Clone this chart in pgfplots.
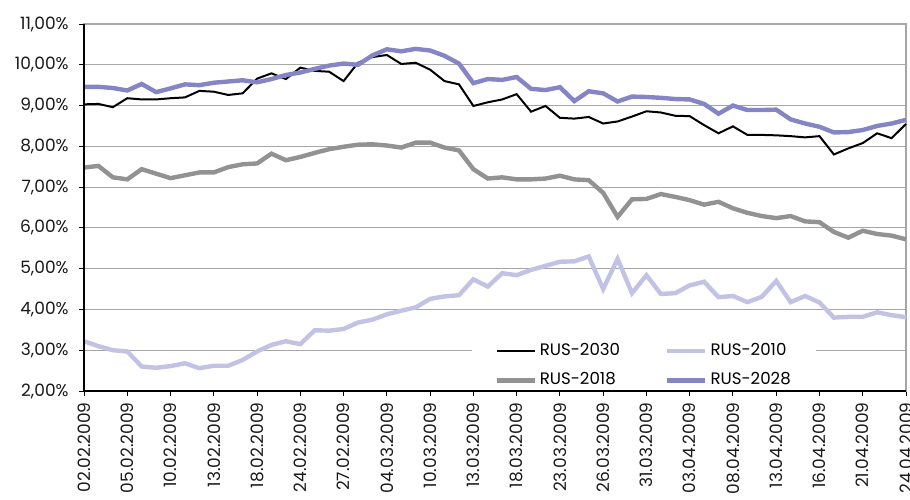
\documentclass[border=0pt]{standalone}
\usepackage{fontspec}
\setmainfont{Poppins}
\usepackage{pgfplots}
\usepackage{pgfplotstable}
\pgfplotsset{compat=1.18}

\definecolor{rus2030}{HTML}{000000}
\definecolor{rus2010}{HTML}{C2C2E4}
\definecolor{rus2018}{HTML}{929292}
\definecolor{rus2028}{HTML}{8585C5}
\definecolor{gridgray}{HTML}{A6A6A6}

% yields, % per trading day (every 3rd day labelled)
\pgfplotstableread{
idx r2030 r2010 r2018 r2028
0  9.03 3.22 7.48 9.46
1  9.04 3.10 7.52 9.46
2  8.96 3.00 7.24 9.43
3  9.18 2.97 7.19 9.37
4  9.15 2.60 7.44 9.53
5  9.15 2.57 7.33 9.33
6  9.18 2.61 7.22 9.42
7  9.20 2.68 7.29 9.52
8  9.36 2.56 7.36 9.50
9  9.34 2.62 7.36 9.56
10 9.26 2.62 7.49 9.59
11 9.30 2.76 7.56 9.62
12 9.66 2.97 7.58 9.57
13 9.79 3.13 7.82 9.65
14 9.65 3.22 7.66 9.75
15 9.93 3.15 7.74 9.81
16 9.85 3.49 7.84 9.90
17 9.83 3.48 7.93 9.98
18 9.60 3.52 7.99 10.03
19 10.05 3.68 8.04 10.00
20 10.19 3.75 8.05 10.23
21 10.24 3.88 8.02 10.38
22 10.02 3.97 7.97 10.33
23 10.05 4.05 8.09 10.39
24 9.88 4.26 8.09 10.35
25 9.60 4.32 7.97 10.22
26 9.52 4.35 7.90 10.03
27 8.99 4.74 7.44 9.55
28 9.08 4.56 7.21 9.65
29 9.15 4.89 7.24 9.63
30 9.28 4.84 7.19 9.70
31 8.85 4.97 7.19 9.41
32 8.99 5.07 7.21 9.38
33 8.70 5.17 7.28 9.45
34 8.68 5.18 7.19 9.11
35 8.72 5.30 7.17 9.35
36 8.56 4.50 6.86 9.30
37 8.61 5.24 6.27 9.10
38 8.73 4.40 6.70 9.22
39 8.86 4.84 6.71 9.21
40 8.83 4.38 6.83 9.19
41 8.75 4.40 6.76 9.16
42 8.74 4.59 6.68 9.15
43 8.52 4.68 6.57 9.04
44 8.32 4.30 6.64 8.80
45 8.49 4.33 6.48 9.00
46 8.28 4.18 6.37 8.89
47 8.28 4.31 6.29 8.89
48 8.27 4.70 6.24 8.90
49 8.25 4.18 6.29 8.66
50 8.22 4.33 6.16 8.56
51 8.25 4.17 6.14 8.48
52 7.80 3.80 5.90 8.34
53 7.95 3.82 5.76 8.35
54 8.08 3.82 5.93 8.40
55 8.32 3.93 5.85 8.50
56 8.20 3.86 5.81 8.56
57 8.55 3.81 5.72 8.65
}\yields

\begin{document}
\begin{tikzpicture}
\begin{axis}[
  name=ax,
  scale only axis, width=411pt, height=183.5pt,
  xmin=0, xmax=57, ymin=2, ymax=11,
  clip=false,
  xtick={0,3,...,57},
  xticklabels={02.02.2009,05.02.2009,10.02.2009,13.02.2009,18.02.2009,24.02.2009,27.02.2009,04.03.2009,10.03.2009,13.03.2009,18.03.2009,23.03.2009,26.03.2009,31.03.2009,03.04.2009,08.04.2009,13.04.2009,16.04.2009,21.04.2009,24.04.2009},
  ytick={2,...,11},
  yticklabels={{2,00\%},{3,00\%},{4,00\%},{5,00\%},{6,00\%},{7,00\%},{8,00\%},{9,00\%},{10,00\%},{11,00\%}},
  tick label style={font=\fontsize{8.5}{10}\selectfont, text=black!90},
  xticklabel style={rotate=90, anchor=east, inner xsep=3pt},
  yticklabel style={inner xsep=5pt},
  tick pos=left, tick align=outside, major tick length=2.5pt,
  tick style={black, line width=0.5pt},
  ymajorgrids, grid style={gridgray, line width=0.6pt},
  axis line style={gridgray, line width=0.6pt},
  legend columns=2,
  legend cell align=left,
  legend image code/.code={\draw[#1] (0pt,0pt) -- (19pt,0pt);},
  legend style={
    at={(rel axis cs:0.472,0.003)}, anchor=south west,
    draw=none, fill=white,
    font=\fontsize{8.3}{9.5}\selectfont,
    inner xsep=11pt, inner ysep=0pt,
    row sep=5.5pt,
    nodes={inner xsep=1.5pt, inner ysep=0.8pt},
    /tikz/every even column/.append style={column sep=21pt},
  },
]
\addplot[rus2030, line width=1pt] table[x=idx, y=r2030] {\yields};
\addlegendentry{RUS-2030}
\addplot[rus2010, line width=2.2pt] table[x=idx, y=r2010] {\yields};
\addlegendentry{RUS-2010}
\addplot[rus2018, line width=2.2pt] table[x=idx, y=r2018] {\yields};
\addlegendentry{RUS-2018}
\addplot[rus2028, line width=2.2pt] table[x=idx, y=r2028] {\yields};
\addlegendentry{RUS-2028}
\draw[black, line width=0.6pt] (rel axis cs:0,1) -- (rel axis cs:0,0) -- (rel axis cs:1,0);
\end{axis}
\pgfresetboundingbox
\path[use as bounding box] ([shift={(-42pt,-54pt)}]ax.south west) rectangle ([shift={(2pt,12pt)}]ax.north east);
\end{tikzpicture}
\end{document}
